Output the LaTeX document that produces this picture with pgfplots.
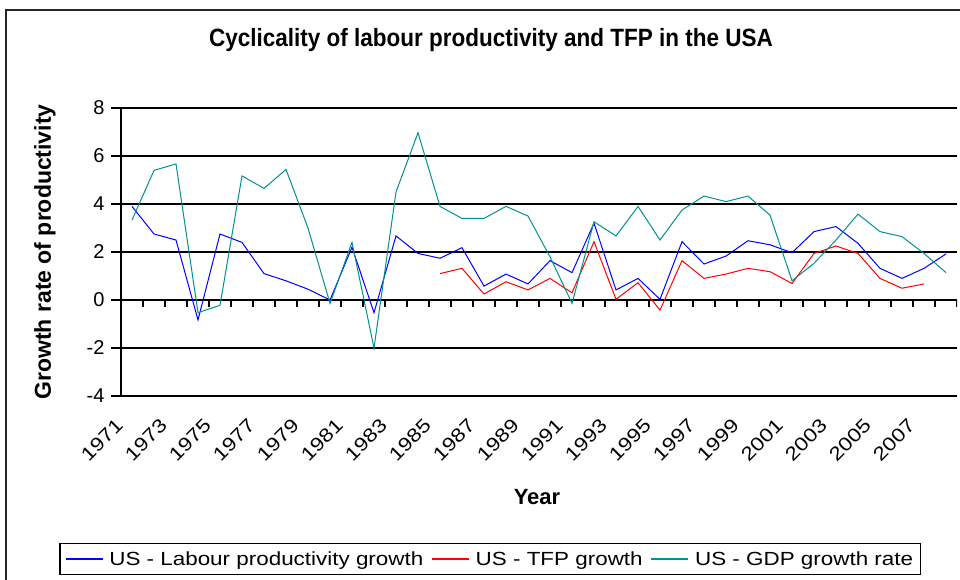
\documentclass[border=0pt]{standalone}
\usepackage{pgfplots}
\pgfplotsset{compat=1.18}
\usepackage{fontspec}
\setmainfont{Liberation Sans}
\newfontfamily\titlefont{Liberation Sans}[FakeStretch=0.9]
\newfontfamily\widefont{Liberation Sans}[FakeStretch=1.18]
\definecolor{lpblue}{RGB}{0,0,255}
\definecolor{tfpred}{RGB}{255,0,0}
\definecolor{gdpteal}{RGB}{0,145,145}
\begin{document}
\begin{tikzpicture}[x=1pt,y=1pt]
\useasboundingbox (0,0) rectangle (960,-579);
\draw[black!85, line width=1.5pt] (6,-585) -- (6,-10) -- (965,-10);
\node[font={\fontsize{25}{30}\titlefont\bfseries}] at (491,-40) {Cyclicality of labour productivity and TFP in the USA};
\node[font={\fontsize{22}{26}\selectfont\bfseries}] at (537,-497) {Year};
\begin{axis}[
  at={(121pt,-396pt)}, anchor=south west,
  scale only axis, width=836pt, height=288pt,
  xmin=1970.5, xmax=2008.5, ymin=-4, ymax=8,
  ytick={-4,-2,...,8},
  xtick={1971,1973,...,2007},
  /pgf/number format/1000 sep={},
  /pgf/number format/assume math mode=true,
  axis y line*=left, axis x line*=bottom,
  y axis line style={black, line width=1.2pt, -},
  x axis line style={draw=none, -},
  tick align=outside, major tick length=10pt,
  major y tick style={black, line width=1.2pt},
  major x tick style={draw=none},
  ymajorgrids, major grid style={black, line width=1.2pt},
  yticklabel style={font={\fontsize{20}{24}\selectfont}, xshift=-3pt},
  xticklabel style={font={\fontsize{19}{22}\widefont}, xshift=-10pt, yshift=-14pt, rotate=45, anchor=east},
  ylabel={Growth rate of productivity},
  ylabel style={font={\fontsize{23}{27}\selectfont\bfseries}, at={(axis description cs:-0.091,0.5)}, anchor=center},
  legend columns=3,
  legend style={at={(axis description cs:0.4414,-0.566)}, anchor=center, draw=black, line width=1.2pt,
    font={\fontsize{19}{22}\widefont}, inner xsep=5pt, inner ysep=6pt,
    /tikz/every odd column/.append style={column sep=4pt},
    /tikz/every even column/.append style={column sep=6pt}},
  legend cell align=left,
  legend image code/.code={\draw[#1, line width=1.4pt] (0pt,0pt) -- (37pt,0pt);},
]
\addplot[lpblue, line width=1pt] coordinates {
(1971,3.9) (1972,2.75) (1973,2.5) (1974,-0.83) (1975,2.75) (1976,2.4) (1977,1.1) (1978,0.8) (1979,0.45) (1980,0.0)
(1981,2.2) (1982,-0.53) (1983,2.67) (1984,1.94) (1985,1.74) (1986,2.18) (1987,0.58) (1988,1.08) (1989,0.67) (1990,1.64)
(1991,1.14) (1992,3.2) (1993,0.42) (1994,0.9) (1995,0.03) (1996,2.43) (1997,1.5) (1998,1.83) (1999,2.47) (2000,2.3)
(2001,1.97) (2002,2.85) (2003,3.06) (2004,2.36) (2005,1.32) (2006,0.9) (2007,1.32) (2008,1.92)};
\addlegendentry{US - Labour productivity growth}
\addplot[tfpred, line width=1pt] coordinates {
(1985,1.1) (1986,1.32) (1987,0.25) (1988,0.76) (1989,0.42) (1990,0.9)
(1991,0.3) (1992,2.43) (1993,0.03) (1994,0.72) (1995,-0.42) (1996,1.64) (1997,0.9) (1998,1.08) (1999,1.32) (2000,1.18)
(2001,0.69) (2002,1.94) (2003,2.25) (2004,1.94) (2005,0.9) (2006,0.49) (2007,0.67)};
\addlegendentry{US - TFP growth}
\addplot[gdpteal, line width=1pt] coordinates {
(1971,3.33) (1972,5.4) (1973,5.67) (1974,-0.53) (1975,-0.22) (1976,5.17) (1977,4.65) (1978,5.44) (1979,3.0) (1980,-0.14)
(1981,2.4) (1982,-2.0) (1983,4.5) (1984,6.97) (1985,3.9) (1986,3.4) (1987,3.4) (1988,3.9) (1989,3.5) (1990,1.8)
(1991,-0.14) (1992,3.26) (1993,2.67) (1994,3.9) (1995,2.5) (1996,3.75) (1997,4.33) (1998,4.1) (1999,4.33) (2000,3.54)
(2001,0.8) (2002,1.53) (2003,2.5) (2004,3.58) (2005,2.85) (2006,2.64) (2007,1.94) (2008,1.14)};
\addlegendentry{US - GDP growth rate}
\pgfplotsinvokeforeach{1971.5,1972.5,...,2008.5}{\draw[black, line width=1.2pt] (axis cs:#1,0) -- ++(0pt,-7pt);}
\end{axis}
\end{tikzpicture}
\end{document}
